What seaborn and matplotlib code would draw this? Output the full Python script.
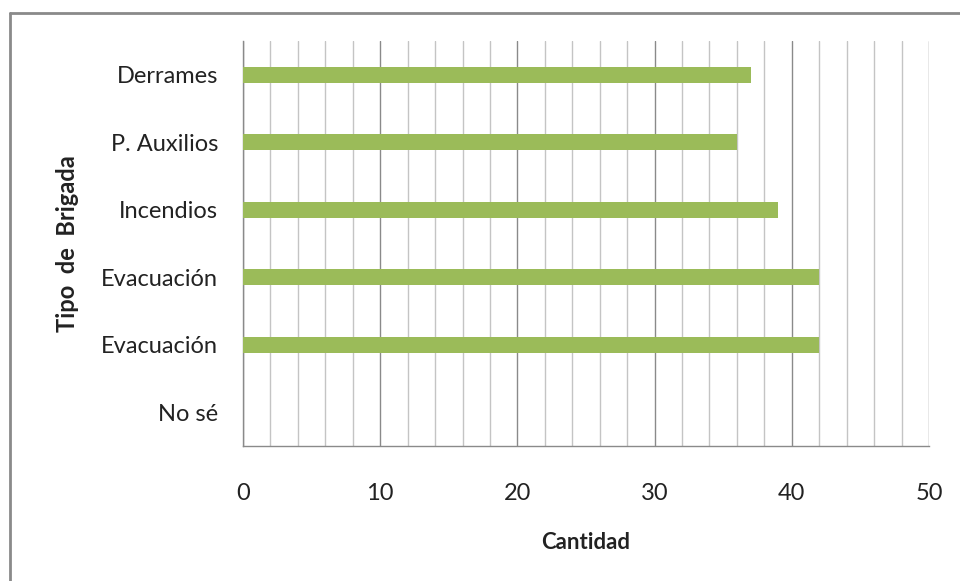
import matplotlib
matplotlib.use("Agg")
import matplotlib.pyplot as plt
from matplotlib.lines import Line2D
from matplotlib.ticker import MultipleLocator
import seaborn as sns
import pandas as pd

categories = ["Derrames", "P. Auxilios", "Incendios", "Evacuación", "Evacuación", "No sé"]
cantidad = [37, 36, 39, 42, 42, 0]

df = pd.DataFrame({"pos": [str(i) for i in range(len(categories))], "Cantidad": cantidad})

sns.set_style("white")
plt.rcParams["font.family"] = ["Lato", "DejaVu Sans"]

fig = plt.figure(figsize=(9.6, 5.81), dpi=100)
ax = fig.add_axes([243 / 960, 1 - 446 / 581, 686 / 960, 405 / 581])

sns.barplot(data=df, x="Cantidad", y="pos", orient="h", color="#9bbb59",
            saturation=1, width=0.24, linewidth=0, ax=ax, zorder=3)

ax.set_xlim(0, 50)
ax.xaxis.set_major_locator(MultipleLocator(10))
ax.xaxis.set_minor_locator(MultipleLocator(2))
ax.grid(True, which="minor", axis="x", color="#c4c4c4", linewidth=1, zorder=0)
ax.grid(True, which="major", axis="x", color="#8a8a8a", linewidth=1, zorder=0)
ax.set_axisbelow(True)

ax.set_yticks(range(len(categories)))
ax.set_yticklabels(categories)
ax.tick_params(axis="y", length=0, pad=18, labelsize=17, colors="#222222")
ax.tick_params(axis="x", which="major", length=7, width=1, color="#8a8a8a",
               direction="out", pad=20, labelsize=17, labelcolor="#222222")
ax.tick_params(axis="x", which="minor", length=0)

for side in ["top", "right"]:
    ax.spines[side].set_visible(False)
for side in ["left", "bottom"]:
    ax.spines[side].set_color("#8a8a8a")
    ax.spines[side].set_linewidth(1)

ax.set_xlabel("Cantidad", fontsize=16, fontweight="bold", labelpad=20, color="#222222")
ax.set_ylabel("Tipo  de  Brigada", fontsize=17, fontweight="bold", labelpad=16, color="#222222")

# outer frame (only left and top visible in the crop)
fig.add_artist(Line2D([10 / 960, 10 / 960], [0, 1 - 13 / 581], transform=fig.transFigure,
                      color="#8a8a8a", linewidth=2))
fig.add_artist(Line2D([10 / 960, 1], [1 - 13 / 581, 1 - 13 / 581], transform=fig.transFigure,
                      color="#8a8a8a", linewidth=2))

fig.savefig("out.png", dpi=100)
